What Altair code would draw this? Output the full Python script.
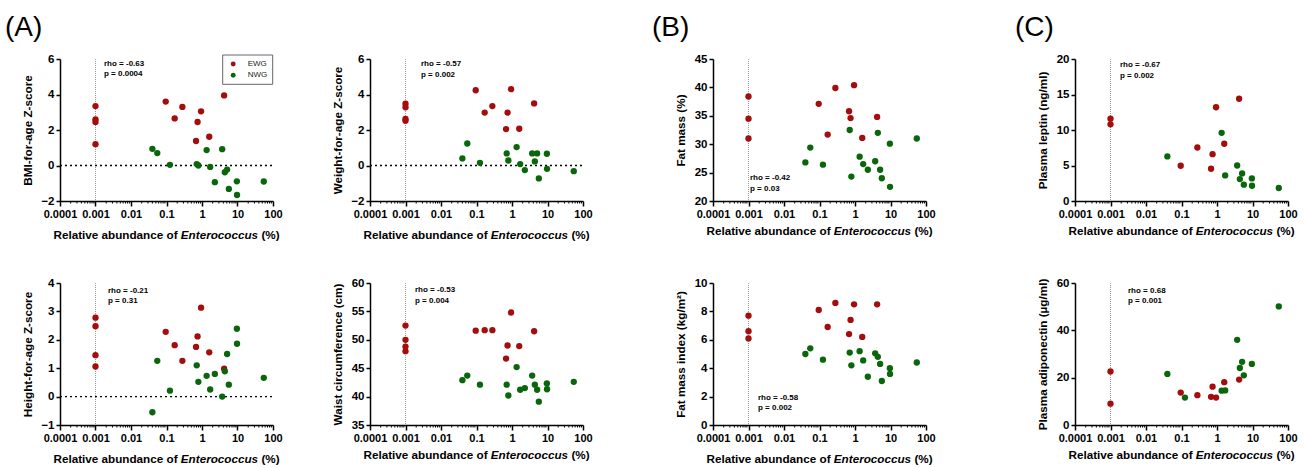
import altair as alt
import pandas as pd

FONT = "Liberation Sans"
RED = "#a50c0c"
GREEN = "#0a660a"
W, H = 213, 142

# shared x positions (relative abundance, %) of subjects with detectable Enterococcus
EWG_X = [0.095, 0.17, 0.28, 0.68, 0.75, 0.94, 1.6, 4.2]
NWG_X = [0.04, 0.055, 0.125, 0.71, 0.79, 1.35, 1.7, 2.3, 3.7, 4.4, 5.1, 5.7, 9.6, 9.7, 55]
ZERO_X = 0.001  # undetectable, plotted at 0.001
DECADES = [0.0001, 0.001, 0.01, 0.1, 1, 10, 100]
MINOR = [m * d for d in DECADES[:-1] for m in range(2, 10)]
GROUPS = ["EWG", "NWG"]

# panel 1: BMI-for-age Z-score
BMI_ZERO = [3.35, 2.6, 2.45, 1.2]
BMI_EWG = [3.6, 2.65, 3.3, 1.38, 2.45, 3.05, 1.62, 3.95]
BMI_NWG = [0.94, 0.7, 0.04, 0.08, 0.0, 0.87, -0.08, -0.94, 0.92, -0.38, -0.23, -1.32, -0.89, -1.66, -0.9]
# panel 2: Weight-for-age Z-score
WAZ_ZERO = [3.48, 3.28, 2.62, 2.52]
WAZ_EWG = [4.24, 2.98, 3.35, 2.05, 2.98, 4.3, 2.07, 3.5]
WAZ_NWG = [0.4, 1.24, 0.15, 0.68, 0.28, 1.04, 0.08, -0.26, 0.68, 0.23, 0.68, -0.73, 0.66, -0.19, -0.32]
# panel 3: Height-for-age Z-score
HAZ_ZERO = [2.78, 2.48, 1.46, 1.06]
HAZ_EWG = [2.28, 1.81, 1.26, 1.75, 2.12, 3.13, 1.56, 0.98]
HAZ_NWG = [-0.55, 1.26, 0.21, 1.1, 0.52, 0.73, 0.25, 0.8, 0.0, 0.89, 1.5, 0.42, 2.39, 1.86, 0.66]
# panel 4: Waist circumference
WC_ZERO = [52.5, 50.0, 48.8, 48.0]
WC_EWG = [51.6, 51.7, 51.7, 46.7, 49.0, 54.8, 48.9, 51.5]
WC_NWG = [42.9, 43.7, 42.1, 42.1, 40.2, 45.2, 41.2, 41.5, 43.7, 42.1, 41.2, 39.1, 42.3, 41.3, 42.6]
# panel 5: Fat mass (%)
FM_ZERO = [38.4, 34.5, 31.0]
FM_EWG = [37.1, 31.7, 39.9, 35.8, 34.6, 40.4, 31.1, 34.8]
FM_NWG = [26.8, 29.4, 26.4, 32.5, 24.3, 27.8, 26.5, 25.5, 27.0, 32.0, 25.5, 24.0, 30.1, 22.5, 31.0]
# panel 6: Fat mass index
FMI_ZERO = [7.7, 6.6, 6.1]
FMI_EWG = [8.1, 6.9, 8.6, 6.4, 7.4, 8.5, 6.2, 8.5]
FMI_NWG = [5.0, 5.4, 4.6, 5.1, 4.2, 5.2, 4.55, 3.4, 5.05, 4.8, 4.3, 3.1, 4.0, 3.6, 4.4]
# panel 7: Plasma leptin
LEP_ZERO = [11.6, 10.8]
LEP_EWG = [4.96, None, 7.54, 4.54, 6.6, 13.2, 8.06, 14.4]
LEP_NWG = [6.28, None, None, None, None, 9.6, 3.6, None, 5.0, 3.09, 3.89, 2.3, 3.18, 2.15, 1.83]
# panel 8: Plasma adiponectin
ADI_ZERO = [22.6, 9.0]
ADI_EWG = [13.7, None, 12.6, 11.9, 16.2, 11.6, 18.1, 19.2]
ADI_NWG = [21.6, None, 11.6, None, None, 14.5, 14.6, None, 36.0, 24.1, 26.7, 21.0, 25.8, None, 50.1]

# blank lead-in (px) before each column's plot area: gaps between columns
LEADS = [0, 97, 130, 149]

PANELS = [
    dict(title="BMI-for-age Z-score", dom=[-2, 6], ticks=[-2, 0, 2, 4, 6], zero=BMI_ZERO, ewg=BMI_EWG, nwg=BMI_NWG,
         rho="rho = -0.63", p="p = 0.0004", pos=(44, 4.5), hline=True, legend=True, tag=("(A)", -55), xoff=34, col=0),
    dict(title="Weight-for-age Z-score", dom=[-2, 6], ticks=[-2, 0, 2, 4, 6], zero=WAZ_ZERO, ewg=WAZ_EWG, nwg=WAZ_NWG,
         rho="rho = -0.57", p="p = 0.002", pos=(51, 5), hline=True, xoff=34, col=1),
    dict(title="Fat mass (%)", dom=[20, 45], ticks=[20, 25, 30, 35, 40, 45], zero=FM_ZERO, ewg=FM_EWG, nwg=FM_NWG,
         rho="rho = -0.42", p="p = 0.03", pos=(37, 119), tag=("(B)", -61), xoff=30, col=2),
    dict(title="Plasma leptin (ng/ml)", dom=[0, 20], ticks=[0, 5, 10, 15, 20], zero=LEP_ZERO, ewg=LEP_EWG, nwg=LEP_NWG,
         rho="rho = -0.67", p="p = 0.002", pos=(45, 6.3), tag=("(C)", -60), xoff=30, col=3),
    dict(title="Height-for-age Z-score", dom=[-1, 4], ticks=[-1, 0, 1, 2, 3, 4], zero=HAZ_ZERO, ewg=HAZ_EWG, nwg=HAZ_NWG,
         rho="rho = -0.21", p="p = 0.31", pos=(48, 7.7), hline=True, xoff=34, col=0),
    dict(title="Waist circumference (cm)", dom=[35, 60], ticks=[35, 40, 45, 50, 55, 60], zero=WC_ZERO, ewg=WC_EWG, nwg=WC_NWG,
         rho="rho = -0.53", p="p = 0.004", pos=(45, 7), xoff=30, col=1),
    dict(title="Fat mass index (kg/m²)", dom=[0, 10], ticks=[0, 2, 4, 6, 8, 10], zero=FMI_ZERO, ewg=FMI_EWG, nwg=FMI_NWG,
         rho="rho = -0.58", p="p = 0.002", pos=(45, 114.7), xoff=34, col=2),
    dict(title="Plasma adiponectin (µg/ml)", dom=[0, 60], ticks=[0, 20, 40, 60], zero=ADI_ZERO, ewg=ADI_EWG, nwg=ADI_NWG,
         rho="rho = 0.68", p="p = 0.001", pos=(53, 7.7), xoff=30, col=3),
]

BOLD_W = {' ': 278, '(': 333, ')': 333, '%': 889, 'R': 722, 'e': 556, 'l': 278, 'a': 556, 't': 333, 'i': 278,
          'v': 556, 'b': 611, 'u': 611, 'n': 611, 'd': 611, 'c': 556, 'o': 611, 'f': 333, 'E': 667, 'r': 389, 's': 556}
TFS = 11.7


def tw(s, fs=TFS):
    return sum(BOLD_W[c] for c in s) / 1000 * fs


def one(txt, x, y, size=8, weight="bold", style="normal", align="left", baseline="middle"):
    return alt.Chart(alt.Data(values=[{}])).mark_text(
        font=FONT, fontSize=size, fontWeight=weight, fontStyle=style, align=align, baseline=baseline, color="black"
    ).encode(x=alt.value(x), y=alt.value(y), text=alt.value(txt))


def panel(pn):
    L = LEADS[pn["col"]]
    rows = [{"x": ZERO_X, "y": v, "group": "EWG"} for v in pn["zero"]]
    rows += [{"x": x, "y": v, "group": "EWG"} for x, v in zip(EWG_X, pn["ewg"]) if v is not None]
    rows += [{"x": x, "y": v, "group": "NWG"} for x, v in zip(NWG_X, pn["nwg"]) if v is not None]
    df = pd.DataFrame(rows)

    xs = alt.Scale(type="log", domain=[0.0001, 100], nice=False, range=[L, L + W])
    xa = alt.Axis(values=DECADES, format="~g", title=None, grid=False, tickSize=5, labelFlush=False)
    ys = alt.Scale(domain=pn["dom"], nice=False, zero=False)
    ya = alt.Axis(values=pn["ticks"], title=pn["title"], grid=False, tickSize=4, offset=-L, labelFontSize=11.5,
                  titleX=-33, titleY=H / 2, titleBaseline="middle", titleAlign="center", titleAngle=270)

    def X():
        return alt.X("x:Q", scale=xs, axis=xa)

    def Y():
        return alt.Y("y:Q", scale=ys, axis=ya)

    layers = []
    if pn.get("legend"):
        leg = alt.Legend(orient="none", legendX=L + 169.2, legendY=1, title=None, padding=0,
                         symbolSize=24, symbolType="circle", symbolStrokeWidth=0, labelFontSize=8,
                         labelFont=FONT, labelOffset=10.5, rowPadding=3.3, labelColor="#222")
        # legend frame
        layers.append(alt.Chart(alt.Data(values=[{}])).mark_rect(
            fill="white", stroke="#666", strokeWidth=1).encode(
            x=alt.value(L + 162.7), x2=alt.value(L + 212.7), y=alt.value(-4), y2=alt.value(25.3)))
    else:
        leg = None

    layers.append(alt.Chart(pd.DataFrame({"x": [ZERO_X]})).mark_rule(
        color="#9a9a9a", strokeDash=[1, 1], strokeWidth=1).encode(x=X()))
    if pn.get("hline"):
        layers.append(alt.Chart(pd.DataFrame({"y": [0]})).mark_rule(
            color="black", strokeDash=[2, 3], strokeWidth=1.3).encode(
            y=Y(), x=alt.value(L), x2=alt.value(L + W)))
    layers.append(alt.Chart(pd.DataFrame({"x": MINOR})).mark_rule(color="black", strokeWidth=1).encode(
        x=X(), y=alt.value(H), y2=alt.value(H + 2.5)))
    layers.append(alt.Chart(df).mark_circle(size=40, opacity=1).encode(
        x=X(), y=Y(),
        color=alt.Color("group:N", scale=alt.Scale(domain=GROUPS, range=[RED, GREEN]), legend=leg)))
    px, py = pn["pos"]
    layers.append(one(pn["rho"], L + px, py))
    layers.append(one(pn["p"], L + px, py + 10.5))
    # x-axis title with italic genus name
    full = "Relative abundance of Enterococcus (%)"
    xe = L + W / 2 - tw(full) / 2 + tw("Relative abundance of ")
    ty = H + pn["xoff"]
    layers.append(one("Relative abundance of", xe - tw(" "), ty, size=TFS, align="right"))
    layers.append(one("Enterococcus", xe, ty, size=TFS, style="italic"))
    layers.append(one("(%)", xe + tw("Enterococcus") + tw(" "), ty, size=TFS))
    if pn.get("tag"):
        tag, tx = pn["tag"]
        layers.append(one(tag, L + tx, -23, size=28, weight="normal", baseline="alphabetic"))
    return alt.layer(*layers).properties(width=L + W, height=H)


P = [panel(pn) for pn in PANELS]

chart = alt.concat(*P, columns=4, spacing={"row": 82, "column": 0}, bounds="flush").resolve_scale(
    color="independent").resolve_legend(color="independent")

chart = chart.properties(
    padding={"left": 5, "top": 14, "right": 0, "bottom": 0}, background="white"
).configure_view(strokeWidth=0).configure_axis(
    labelFont=FONT, labelFontWeight="bold", labelFontSize=11, labelColor="black", labelPadding=2,
    titleFont=FONT, titleFontWeight="bold", titleFontSize=TFS, titleColor="black",
    domainColor="black", domainWidth=1.5, tickColor="black", tickWidth=1.5,
)

chart.save("out.html", embed_options={"renderer": "svg", "actions": False})
